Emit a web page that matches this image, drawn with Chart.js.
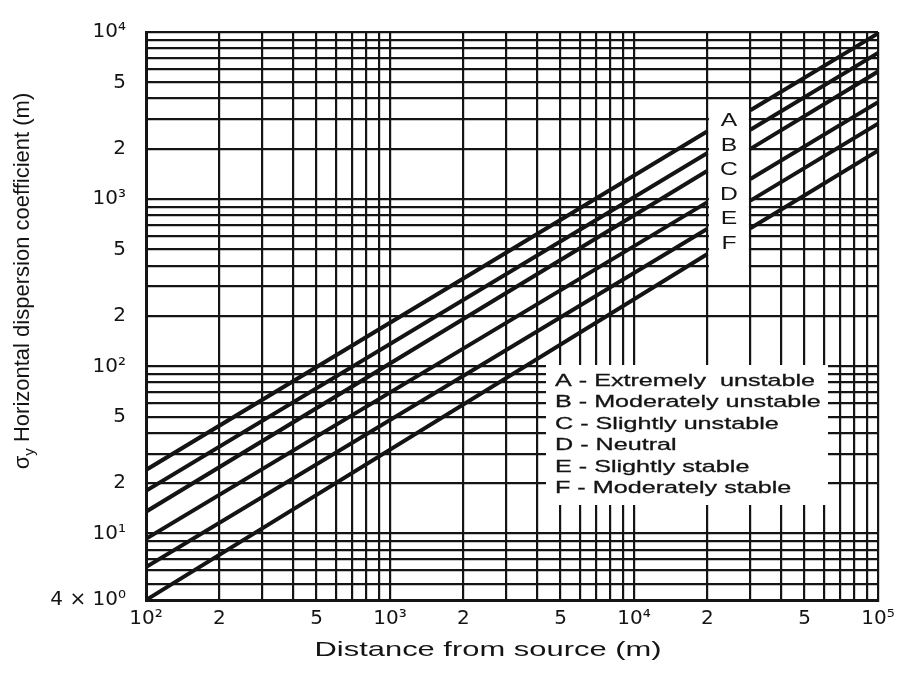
<!DOCTYPE html>
<html>
<head>
<meta charset="utf-8">
<script src="https://cdn.jsdelivr.net/npm/chart.js@4.4.1/dist/chart.umd.min.js"></script>
<style>
  html, body { margin: 0; padding: 0; background: #fff; }
  #wrap { width: 903px; height: 679px; }
</style>
</head>
<body>
<div id="wrap"><canvas id="c"></canvas></div>
<script>
// distance from source (m); the null column is the break where the letters sit
var distance = [100, 20000, 25000, 30000, 100000];

// sigma_y (m) for each stability class
var lineA = [24, 2550, null, 3400, 9800];
var lineB = [18, 1890, null, 2600, 7500];
var lineC = [13.5, 1480, null, 2000, 5800];
var lineD = [9.3, 960, null, 1320, 3800];
var lineE = [6.3, 665, null, 980, 2830];
var lineF = [4, 470, null, 670, 1950];

var classLetters = ['A', 'B', 'C', 'D', 'E', 'F'];
var classNames = ['Extremely  unstable', 'Moderately unstable', 'Slightly unstable',
                  'Neutral', 'Slightly stable', 'Moderately stable'];

var xLabelValues = [100, 200, 500, 1000, 2000, 5000, 10000, 20000, 50000, 100000];
var xLabelTexts  = ['10²', '2', '5', '10³', '2', '5', '10⁴', '2', '5', '10⁵'];
var yLabelValues = [4, 10, 20, 50, 100, 200, 500, 1000, 2000, 5000, 10000];
var yLabelTexts  = ['4 × 10⁰', '10¹', '2', '5', '10²', '2', '5', '10³', '2', '5', '10⁴'];

var INK = '#141414';

// log grid: every 1..9 multiple of each decade
function logGrid(lo, hi) {
    var out = [];
    for (var d = 1; d <= 100000; d *= 10) {
        for (var m = 1; m <= 9; m++) {
            var v = m * d;
            if (v >= lo && v <= hi) out.push({ value: v });
        }
    }
    return out;
}

function labelFor(values, texts) {
    return function (v) {
        var i = values.indexOf(v);
        return i < 0 ? '' : texts[i];
    };
}

function series(ys) {
    return distance.map(function (x, i) { return { x: x, y: ys[i] }; });
}

// scanned original has wide lettering, so stretch horizontally
function stretchText(ctx, text, x, y, sx, align, heavy) {
    ctx.save();
    ctx.translate(x, y);
    ctx.scale(sx, 1);
    ctx.textAlign = align;
    ctx.fillText(text, 0, 0);
    if (heavy) {
        ctx.lineWidth = heavy;
        ctx.strokeText(text, 0, 0);
    }
    ctx.restore();
}

var overlay = {
    id: 'overlay',
    beforeDatasetsDraw: function (chart) {
        var ctx = chart.ctx, xs = chart.scales.x, ys = chart.scales.y;
        ctx.save();
        ctx.fillStyle = '#fff';
        // white strip for the class letters (between the 2e4 and 3e4 gridlines)
        var sx0 = xs.getPixelForValue(20000) + 1.5;
        var sx1 = xs.getPixelForValue(30000) - 1.5;
        var sy0 = ys.getPixelForValue(3800);
        var sy1 = ys.getPixelForValue(370);
        ctx.fillRect(sx0, sy0, sx1 - sx0, sy1 - sy0);
        // blank box behind the key
        ctx.fillRect(546, 365, 282, 140);
        ctx.restore();
    },
    afterDatasetsDraw: function (chart) {
        var ctx = chart.ctx, xs = chart.scales.x;
        ctx.save();
        ctx.fillStyle = INK;
        ctx.strokeStyle = INK;
        ctx.textBaseline = 'middle';
        // letters in the strip
        var cx = (xs.getPixelForValue(20000) + xs.getPixelForValue(30000)) / 2;
        ctx.font = '19px "Liberation Sans", Arial, sans-serif';
        classLetters.forEach(function (l, i) {
            stretchText(ctx, l, cx, 121 + i * 24.5, 1.3, 'center', 0);
        });
        // key
        ctx.font = '17px "Liberation Sans", Arial, sans-serif';
        classLetters.forEach(function (l, i) {
            stretchText(ctx, l + ' - ' + classNames[i], 555, 381 + i * 21.5, 1.48, 'left', 0.3);
        });
        ctx.restore();
    },
    afterDraw: function (chart) {
        var ctx = chart.ctx;
        ctx.save();
        ctx.fillStyle = INK;
        ctx.textBaseline = 'alphabetic';
        // x title
        ctx.font = '21px "Liberation Sans", Arial, sans-serif';
        var xt = 'Distance from source (m)';
        var sx = 347 / ctx.measureText(xt).width;
        stretchText(ctx, xt, 488, 656, sx, 'center', 0);
        // y title with subscript
        ctx.translate(29, 281);
        ctx.rotate(-Math.PI / 2);
        ctx.textAlign = 'left';
        var big = '22px "Liberation Sans", Arial, sans-serif';
        var small = '15px "Liberation Sans", Arial, sans-serif';
        var rest = ' Horizontal dispersion coefficient (m)';
        ctx.font = big;
        var w1 = ctx.measureText('σ').width, w3 = ctx.measureText(rest).width;
        ctx.font = small;
        var w2 = ctx.measureText('y').width;
        var start = -(w1 + w2 + w3) / 2;
        ctx.font = big;
        ctx.fillText('σ', start, 0);
        ctx.fillText(rest, start + w1 + w2, 0);
        ctx.font = small;
        ctx.fillText('y', start + w1, 5);
        ctx.restore();
    }
};

var lineStyle = { borderColor: INK, borderWidth: 4, pointRadius: 0, spanGaps: false, tension: 0, fill: false };

new Chart(document.getElementById('c'), {
    type: 'line',
    data: {
        datasets: [
            Object.assign({ label: 'A', data: series(lineA) }, lineStyle),
            Object.assign({ label: 'B', data: series(lineB) }, lineStyle),
            Object.assign({ label: 'C', data: series(lineC) }, lineStyle),
            Object.assign({ label: 'D', data: series(lineD) }, lineStyle),
            Object.assign({ label: 'E', data: series(lineE) }, lineStyle),
            Object.assign({ label: 'F', data: series(lineF) }, lineStyle)
        ]
    },
    options: {
        responsive: true,
        maintainAspectRatio: false,
        animation: false,
        layout: { padding: { top: 25, right: 25, left: 0, bottom: 0 } },
        plugins: { legend: { display: false }, tooltip: { enabled: false } },
        scales: {
            x: {
                type: 'logarithmic',
                min: 100, max: 100000,
                afterBuildTicks: function (s) { s.ticks = logGrid(100, 100000); },
                afterFit: function (s) { s.height = 79; },
                ticks: {
                    autoSkip: false, maxRotation: 0, padding: 7, color: INK,
                    font: { family: '"DejaVu Sans", sans-serif', size: 20 },
                    callback: labelFor(xLabelValues, xLabelTexts)
                },
                grid: { color: INK, lineWidth: 2.2, drawTicks: false },
                border: { color: INK, width: 3 }
            },
            y: {
                type: 'logarithmic',
                min: 4, max: 10000,
                afterBuildTicks: function (s) { s.ticks = logGrid(4, 10000); },
                afterFit: function (s) { s.width = 146; },
                ticks: {
                    autoSkip: false, padding: 20, color: INK,
                    font: { family: '"DejaVu Sans", sans-serif', size: 20 },
                    callback: labelFor(yLabelValues, yLabelTexts)
                },
                grid: { color: INK, lineWidth: 2.2, drawTicks: false },
                border: { color: INK, width: 3 }
            }
        }
    },
    plugins: [overlay]
});
</script>
</body>
</html>
